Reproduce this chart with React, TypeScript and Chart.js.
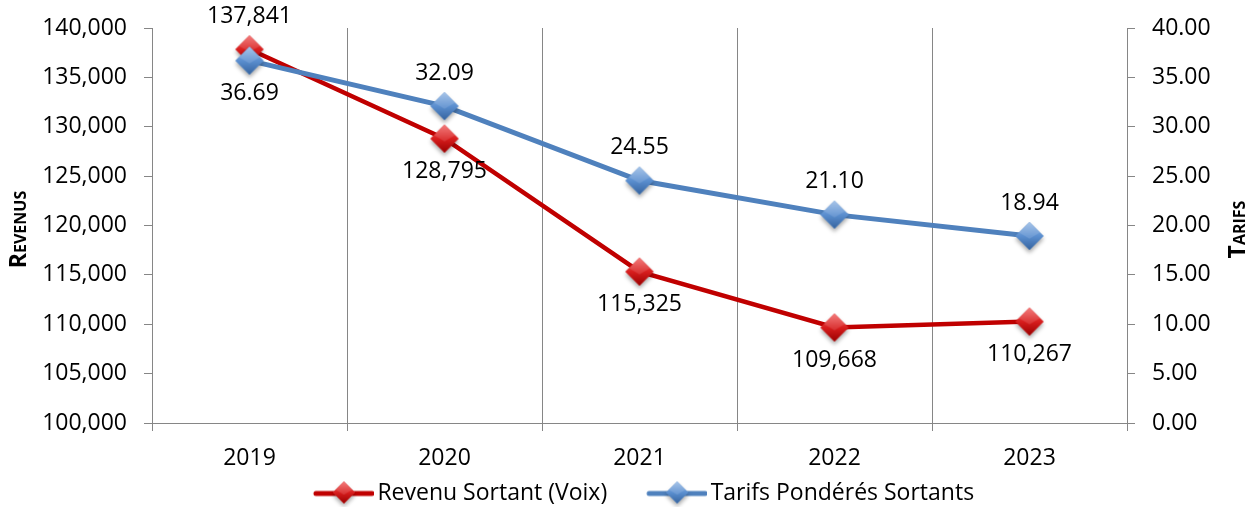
import React, { useEffect, useRef } from 'react';
import { Chart, registerables } from 'chart.js';

Chart.register(...registerables);

const years = ['2019', '2020', '2021', '2022', '2023'];
const revenus = [137841, 128795, 115325, 109668, 110267];
const tarifs = [36.69, 32.09, 24.55, 21.1, 18.94];
const revenusLabel = 'Revenu Sortant (Voix)';
const tarifsLabel = 'Tarifs Pondérés Sortants';
const leftTitle = 'Revenus';
const rightTitle = 'Tarifs';

const FONT = '"Open Sans", "DejaVu Sans", sans-serif';
const FS = 23;
const RED = '#C00000';
const BLUE = '#4F81BD';
const GRID = '#868686';
const OFF = 33;

function diamondPath(ctx: CanvasRenderingContext2D, cx: number, cy: number, h: number) {
  ctx.beginPath();
  ctx.moveTo(cx, cy - h);
  ctx.lineTo(cx + h, cy);
  ctx.lineTo(cx, cy + h);
  ctx.lineTo(cx - h, cy);
  ctx.closePath();
}

function paintDiamond(ctx: CanvasRenderingContext2D, cx: number, cy: number, h: number, light: string, mid: string, dark: string) {
  ctx.save();
  ctx.shadowColor = 'rgba(0,0,0,0.35)';
  ctx.shadowBlur = 4;
  ctx.shadowOffsetY = 3;
  diamondPath(ctx, cx, cy, h);
  ctx.fillStyle = mid;
  ctx.fill();
  ctx.restore();
  const g = ctx.createLinearGradient(cx, cy - h, cx, cy + h);
  g.addColorStop(0, light);
  g.addColorStop(0.5, mid);
  g.addColorStop(1, dark);
  diamondPath(ctx, cx, cy, h);
  ctx.fillStyle = g;
  ctx.fill();
  ctx.beginPath();
  ctx.moveTo(cx, cy - h);
  ctx.lineTo(cx + h * 0.75, cy - h * 0.25);
  ctx.lineTo(cx, cy + h * 0.2);
  ctx.lineTo(cx - h * 0.75, cy - h * 0.25);
  ctx.closePath();
  ctx.fillStyle = 'rgba(255,255,255,0.12)';
  ctx.fill();
}

function makePoint(light: string, mid: string, dark: string, h: number) {
  const size = Math.ceil(h * 2 + 14);
  const c = document.createElement('canvas');
  c.width = size;
  c.height = size;
  const ctx = c.getContext('2d')!;
  paintDiamond(ctx, size / 2, size / 2, h, light, mid, dark);
  return c;
}

function makeLegendMarker(line: string, light: string, mid: string, dark: string) {
  const c = document.createElement('canvas');
  c.width = 98;
  c.height = 28;
  const ctx = c.getContext('2d')!;
  ctx.strokeStyle = line;
  ctx.lineWidth = 5;
  ctx.lineCap = 'round';
  ctx.beginPath();
  ctx.moveTo(40, 14);
  ctx.lineTo(96, 14);
  ctx.stroke();
  paintDiamond(ctx, 68, 13, 11, light, mid, dark);
  return c;
}

export default function App() {
  const ref = useRef<HTMLCanvasElement | null>(null);

  useEffect(() => {
    document.body.style.margin = '0';
    document.body.style.overflow = 'hidden';
    const canvas = ref.current;
    if (!canvas) return;

    const redPt = makePoint('#f26a6a', '#d81e1e', '#9a0000', 14);
    const bluePt = makePoint('#9cbde6', '#5b8fd0', '#35639f', 14);
    const redLeg = makeLegendMarker(RED, '#f26a6a', '#d81e1e', '#9a0000');
    const blueLeg = makeLegendMarker(BLUE, '#9cbde6', '#5b8fd0', '#35639f');

    const valueLabels = {
      id: 'valueLabels',
      afterDatasetsDraw(chart: any) {
        const ctx = chart.ctx;
        const m0 = chart.getDatasetMeta(0);
        const m1 = chart.getDatasetMeta(1);
        ctx.save();
        ctx.font = `${FS}px ${FONT}`;
        ctx.fillStyle = '#000';
        ctx.textAlign = 'center';
        ctx.textBaseline = 'middle';
        m0.data.forEach((pt: any, i: number) => {
          const other = m1.data[i];
          const redAbove = pt.y < other.y;
          ctx.fillText(revenus[i].toLocaleString('en-US'), pt.x, pt.y + (redAbove ? -OFF : OFF));
          ctx.fillText(tarifs[i].toFixed(2), other.x, other.y + (redAbove ? OFF : -OFF));
        });
        ctx.restore();
      },
    };

    const axisTitles = {
      id: 'axisTitles',
      afterDraw(chart: any) {
        const ctx = chart.ctx;
        const area = chart.chartArea;
        const cy = (area.top + area.bottom) / 2 + 4;
        const draw = (text: string, x: number) => {
          ctx.save();
          ctx.translate(x, cy);
          ctx.rotate(-Math.PI / 2);
          ctx.font = `bold 23px ${FONT}`;
          try { (ctx as any).fontVariantCaps = 'small-caps'; } catch (e) {}
          ctx.fillStyle = '#000';
          ctx.textAlign = 'center';
          ctx.textBaseline = 'middle';
          ctx.fillText(text, 0, 0);
          ctx.restore();
        };
        draw(leftTitle, 19);
        draw(rightTitle, 1238);
      },
    };

    const noVPad = (s: any) => {
      s.paddingTop = 0;
      s.paddingBottom = 0;
    };

    const chart = new Chart(canvas, {
      type: 'line',
      data: {
        labels: years,
        datasets: [
          {
            label: revenusLabel,
            data: revenus,
            yAxisID: 'y',
            borderColor: RED,
            backgroundColor: RED,
            borderWidth: 4.5,
            pointStyle: redPt as any,
            pointRadius: 14,
            tension: 0,
            order: 2,
          },
          {
            label: tarifsLabel,
            data: tarifs,
            yAxisID: 'y1',
            borderColor: BLUE,
            backgroundColor: BLUE,
            borderWidth: 5,
            pointStyle: bluePt as any,
            pointRadius: 14,
            tension: 0,
            order: 1,
          },
        ],
      },
      options: {
        responsive: false,
        animation: false,
        layout: { padding: { top: 28, left: 0, right: 0, bottom: -8 } },
        plugins: {
          tooltip: { enabled: false },
          legend: {
            position: 'bottom',
            labels: {
              usePointStyle: true,
              pointStyleWidth: 82,
              padding: 10,
              color: '#000',
              font: { family: FONT, size: FS },
              sort: (a: any, b: any) => a.datasetIndex - b.datasetIndex,
              generateLabels: (chart: any) => {
                const items = Chart.defaults.plugins.legend.labels.generateLabels(chart);
                items.forEach((it: any) => {
                  it.pointStyle = it.datasetIndex === 0 ? redLeg : blueLeg;
                });
                return items;
              },
            },
          },
        },
        scales: {
          x: {
            offset: true,
            grid: { offset: true, color: GRID, lineWidth: 1, tickLength: 8, drawOnChartArea: true },
            border: { display: true, color: GRID, width: 1 },
            ticks: { color: '#000', font: { family: FONT, size: FS }, padding: 14 },
            afterFit: (s: any) => { s.height = 49; },
          },
          y: {
            position: 'left',
            min: 100000,
            max: 140000,
            grid: { drawOnChartArea: false, color: GRID, tickLength: 8 },
            border: { display: true, color: GRID, width: 1 },
            ticks: {
              stepSize: 5000,
              color: '#000',
              padding: 17,
              font: { family: FONT, size: FS },
              callback: (v: any) => Number(v).toLocaleString('en-US'),
            },
            afterFit: (s: any) => { s.width = 152; noVPad(s); },
          },
          y1: {
            position: 'right',
            min: 0,
            max: 40,
            grid: { drawOnChartArea: false, color: GRID, tickLength: 8 },
            border: { display: true, color: GRID, width: 1 },
            ticks: {
              stepSize: 5,
              color: '#000',
              padding: 17,
              font: { family: FONT, size: FS },
              callback: (v: any) => Number(v).toFixed(2),
            },
            afterFit: (s: any) => { s.width = 131; noVPad(s); },
          },
        },
      },
      plugins: [valueLabels, axisTitles],
    });

    return () => chart.destroy();
  }, []);

  return (
    <div style={{ width: 1258, height: 507 }}>
      <canvas ref={ref} width={1258} height={507} style={{ display: 'block', width: 1258, height: 507 }} />
    </div>
  );
}
